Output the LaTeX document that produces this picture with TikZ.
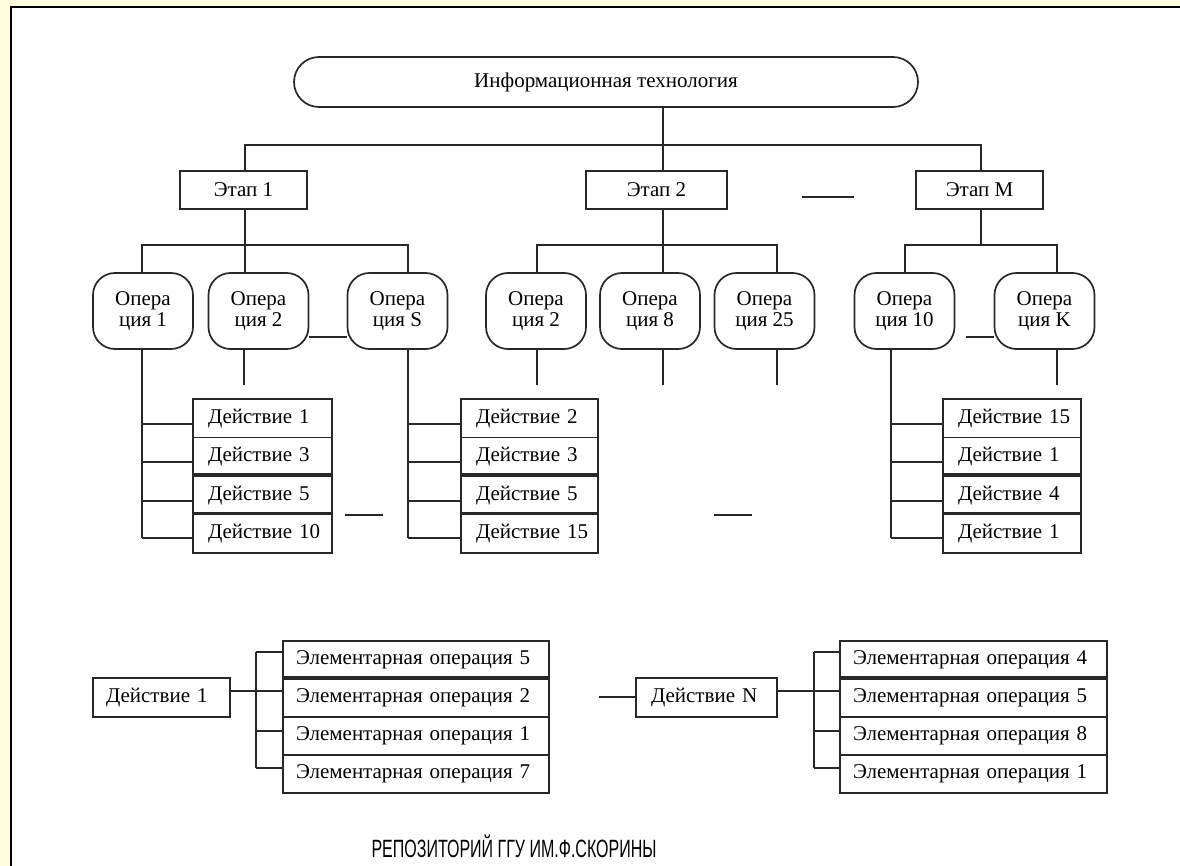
\documentclass[tikz,border=0pt]{standalone}
\usepackage{fontspec}
\setmainfont{Liberation Serif}
\newfontfamily\wmfont{Liberation Sans}
\definecolor{bgY}{RGB}{255,255,224}
\definecolor{ink}{RGB}{40,40,40}
\begin{document}
\begin{tikzpicture}[x=1pt,y=-1pt,
  ln/.style={line width=1.7pt, draw=ink},
  thk/.style={line width=3.4pt, draw=ink},
  base/.style={ln, font=\fontsize{21}{21}\selectfont, inner sep=0pt, text=black},
  itbox/.style={base, rounded corners=25pt, minimum width=624pt, minimum height=50pt},
  stagebox/.style={base, minimum width=127pt, minimum height=38pt},
  opbox/.style={base, rounded corners=22pt, minimum width=100pt, minimum height=76pt, align=center},
  actbox/.style={base, minimum height=38.5pt, text width=#1, inner xsep=15pt, align=left},
  eobox/.style={base, minimum height=38pt, text width=#1, inner xsep=13pt, align=left},
  wmtext/.style={font=\wmfont\fontsize{25}{25}\selectfont, inner sep=0pt}
]
\useasboundingbox (0,0) rectangle (1180,866);
\fill[bgY] (0,0) rectangle (1180,866);
\fill[white] (11,7) rectangle (1180,866);
\draw[line width=2.5pt, black] (1180,7) -- (11,7) -- (11,866);

% top level
\node[itbox] (it) at (606,82) {Информационная технология};
\node[stagebox] (e1) at (243.5,190) {Этап 1};
\node[stagebox, minimum width=141pt] (e2) at (656.5,190) {Этап 2};
\node[stagebox] (eM) at (979.5,190) {Этап M};

\coordinate (b0) at (663,145);
\coordinate (h1L) at (245,145);
\coordinate (h1R) at (981,145);
\draw[ln] (it.south -| b0) -- (b0);
\draw[ln] (e1.north -| h1L) -- (h1L) -- (h1R) -- (eM.north -| h1R);
\draw[ln] (b0) -- (e2.north -| b0);
\coordinate (g1) at (802,197);
\coordinate (g2) at (854,197);
\draw[ln] (g1) -- (g2);

% operations
\node[opbox] (o11) at (143,311) {Опера\\ция 1};
\node[opbox] (o12) at (258.5,311) {Опера\\ция 2};
\node[opbox] (o1S) at (397.5,311) {Опера\\ция S};
\node[opbox] (o21) at (536,311) {Опера\\ция 2};
\node[opbox] (o28) at (650,311) {Опера\\ция 8};
\node[opbox] (o225) at (764.5,311) {Опера\\ция 25};
\node[opbox] (oM10) at (904.5,311) {Опера\\ция 10};
\node[opbox] (oMK) at (1044.5,311) {Опера\\ция K};

\coordinate (s1) at (245,245);
\coordinate (s1L) at (142,245);
\coordinate (s1R) at (408,245);
\draw[ln] (e1.south -| s1) -- (s1);
\draw[ln] (o11.north -| s1L) -- (s1L) -- (s1R) -- (o1S.north -| s1R);
\draw[ln] (o12.north -| s1) -- (s1);

\coordinate (s2) at (663,245);
\coordinate (s2L) at (537,245);
\coordinate (s2R) at (777,245);
\draw[ln] (e2.south -| s2) -- (s2);
\draw[ln] (o21.north -| s2L) -- (s2L) -- (s2R) -- (o225.north -| s2R);
\draw[ln] (o28.north -| s2) -- (s2);

\coordinate (s3) at (981,245);
\coordinate (s3L) at (905,245);
\coordinate (s3R) at (1057,245);
\draw[ln] (eM.south -| s3) -- (s3);
\draw[ln] (oM10.north -| s3L) -- (s3L) -- (s3R) -- (oMK.north -| s3R);

\coordinate (y337) at (0,337);
\draw[ln] (o12.east |- y337) -- (o1S.west |- y337);
\coordinate (g3) at (966,337);
\draw[ln] (g3) -- (oMK.west |- g3);

% short stubs
\coordinate (t12) at (244,385);
\coordinate (t21) at (537,385);
\coordinate (t28) at (663,385);
\coordinate (t225) at (777,385);
\coordinate (tMK) at (1057,385);
\draw[ln] (o12.south -| t12) -- (t12);
\draw[ln] (o21.south -| t21) -- (t21);
\draw[ln] (o28.south -| t28) -- (t28);
\draw[ln] (o225.south -| t225) -- (t225);
\draw[ln] (oMK.south -| tMK) -- (tMK);

% action columns
\node[actbox=109pt] (a1) at (262.5,418.25) {\mbox{Действие 1}};
\node[actbox=109pt] (a2) at (262.5,456.75) {\mbox{Действие 3}};
\node[actbox=109pt] (a3) at (262.5,495.25) {\mbox{Действие 5}};
\node[actbox=109pt] (a4) at (262.5,533.75) {\mbox{Действие 10}};

\node[actbox=107pt] (b1) at (529.5,418.25) {\mbox{Действие 2}};
\node[actbox=107pt] (b2) at (529.5,456.75) {\mbox{Действие 3}};
\node[actbox=107pt] (b3) at (529.5,495.25) {\mbox{Действие 5}};
\node[actbox=107pt] (b4) at (529.5,533.75) {\mbox{Действие 15}};

\node[actbox=108pt] (c1) at (1012,418.25) {\mbox{Действие 15}};
\node[actbox=108pt] (c2) at (1012,456.75) {\mbox{Действие 1}};
\node[actbox=108pt] (c3) at (1012,495.25) {\mbox{Действие 4}};
\node[actbox=108pt] (c4) at (1012,533.75) {\mbox{Действие 1}};

\foreach \col in {a,b,c} {
  \draw[thk] (\col3.north west) -- (\col3.north east);
  \draw[thk] (\col4.north west) -- (\col4.north east);
}

\foreach \n/\y in {1/424,2/462,3/501,4/538} {
  \coordinate (ja\n) at (142,\y);
  \coordinate (jb\n) at (408,\y);
  \coordinate (jc\n) at (891,\y);
  \draw[ln] (ja\n) -- (a\n.west |- ja\n);
  \draw[ln] (jb\n) -- (b\n.west |- jb\n);
  \draw[ln] (jc\n) -- (c\n.west |- jc\n);
}
\draw[ln] (o11.south -| ja4) -- (ja4);
\draw[ln] (o1S.south -| jb4) -- (jb4);
\draw[ln] (oM10.south -| jc4) -- (jc4);

\coordinate (g4) at (345,515);
\coordinate (g5) at (383,515);
\draw[ln] (g4) -- (g5);
\coordinate (g6) at (714,515);
\coordinate (g7) at (752,515);
\draw[ln] (g6) -- (g7);

% bottom section
\node[eobox=111pt] (d1) at (161.5,697.5) [minimum height=39pt] {\mbox{Действие 1}};
\node[eobox=111pt, inner xsep=15pt] (dN) at (706.5,697.5) [minimum height=39pt] {\mbox{Действие N}};

\node[eobox=240pt] (p1) at (416,660) {\mbox{Элементарная операция 5}};
\node[eobox=240pt] (p2) at (416,698) {\mbox{Элементарная операция 2}};
\node[eobox=240pt] (p3) at (416,736) {\mbox{Элементарная операция 1}};
\node[eobox=240pt] (p4) at (416,774) {\mbox{Элементарная операция 7}};

\node[eobox=241pt] (q1) at (973.5,660) {\mbox{Элементарная операция 4}};
\node[eobox=241pt] (q2) at (973.5,698) {\mbox{Элементарная операция 5}};
\node[eobox=241pt] (q3) at (973.5,736) {\mbox{Элементарная операция 8}};
\node[eobox=241pt] (q4) at (973.5,774) {\mbox{Элементарная операция 1}};

\draw[thk] (p2.north west) -- (p2.north east);
\draw[thk] (q2.north west) -- (q2.north east);

\coordinate (k0) at (256,691);
\coordinate (m0) at (814,691);
\draw[ln] (d1.east |- k0) -- (k0);
\draw[ln] (dN.east |- m0) -- (m0);
\foreach \n/\y in {1/652,2/691,3/731,4/768} {
  \coordinate (k\n) at (256,\y);
  \coordinate (m\n) at (814,\y);
  \draw[ln] (k\n) -- (p\n.west |- k\n);
  \draw[ln] (m\n) -- (q\n.west |- m\n);
}
\draw[ln] (k1) -- (k4);
\draw[ln] (m1) -- (m4);

\coordinate (g8) at (599,697);
\draw[ln] (g8) -- (dN.west |- g8);

% watermark
\node[wmtext] (wm) at (514,846) {\scalebox{0.64}[1]{РЕПОЗИТОРИЙ ГГУ ИМ.Ф.СКОРИНЫ}};
\end{tikzpicture}
\end{document}
